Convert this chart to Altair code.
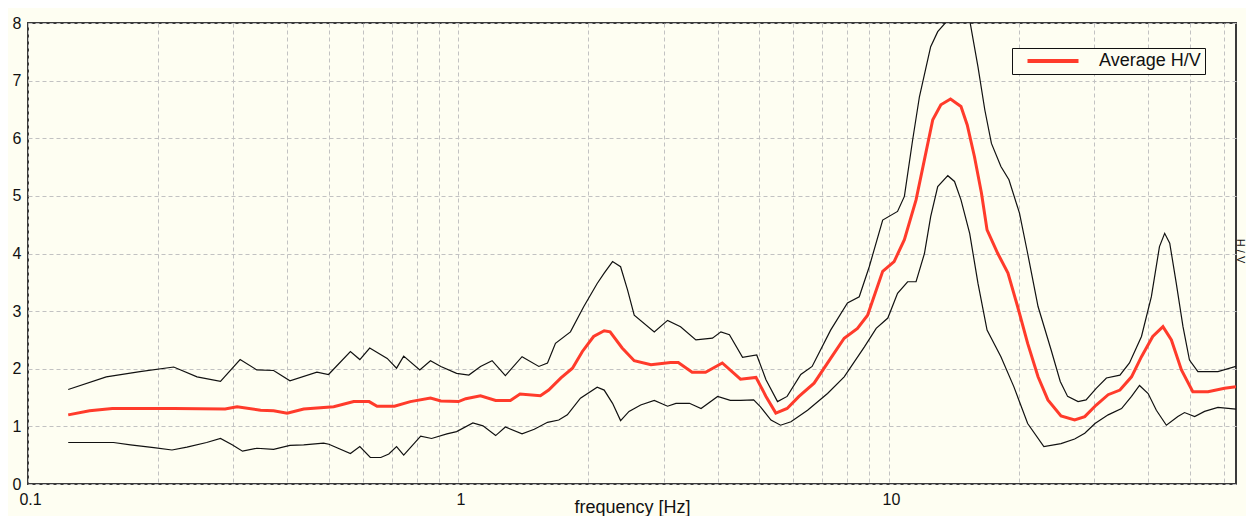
import altair as alt
import pandas as pd

# ---------------- data ----------------
freq_upper = [0.124, 0.152, 0.182, 0.218, 0.247, 0.280, 0.311, 0.340, 0.372, 0.406,
              0.469, 0.499, 0.561, 0.590, 0.622, 0.683, 0.718, 0.746, 0.813, 0.861,
              0.910, 0.99, 1.057, 1.125, 1.197, 1.285, 1.405, 1.537, 1.61, 1.68,
              1.82, 1.955, 2.10, 2.18, 2.28, 2.38, 2.47, 2.56, 2.85, 3.06,
              3.28, 3.56, 3.89, 4.07, 4.26, 4.57, 4.93, 5.18, 5.51, 5.8,
              6.24, 6.63, 7.32, 8.01, 8.53, 9.0, 9.67, 10.47, 10.86, 11.35,
              11.77, 12.2, 12.5, 12.98, 13.7, 14.5, 15.4, 16.1, 16.7, 17.3,
              18.2, 19.0, 20.1, 21.0, 22.2, 23.8, 25.0, 26.0, 27.5, 28.7,
              30.3, 32.0, 34.4, 36.2, 38.6, 40.7, 42.5, 43.7, 44.9, 46.5,
              48.2, 49.9, 52.2, 58.1, 64.0]
hv_upper = [1.64, 1.86, 1.95, 2.03, 1.86, 1.78, 2.16, 1.98, 1.97, 1.79,
            1.94, 1.90, 2.30, 2.16, 2.36, 2.18, 2.01, 2.22, 1.98, 2.14,
            2.04, 1.92, 1.89, 2.04, 2.14, 1.88, 2.21, 2.04, 2.10, 2.44,
            2.64, 3.08, 3.48, 3.66, 3.86, 3.77, 3.37, 2.93, 2.64, 2.84,
            2.73, 2.50, 2.53, 2.64, 2.59, 2.20, 2.24, 1.81, 1.43, 1.52,
            1.90, 2.04, 2.67, 3.14, 3.25, 3.77, 4.58, 4.73, 4.99, 5.97,
            6.72, 7.24, 7.59, 7.85, 8.05, 8.30, 8.05, 7.24, 6.49, 5.91,
            5.51, 5.28, 4.70, 4.00, 3.08, 2.33, 1.78, 1.52, 1.43, 1.46,
            1.66, 1.84, 1.89, 2.10, 2.56, 3.25, 4.12, 4.35, 4.18, 3.48,
            2.73, 2.15, 1.95, 1.95, 2.04]

freq_mean = [0.124, 0.139, 0.157, 0.218, 0.287, 0.306, 0.347, 0.372, 0.400, 0.437,
             0.513, 0.571, 0.620, 0.647, 0.710, 0.773, 0.861, 0.910, 1.0, 1.04,
             1.125, 1.22, 1.32, 1.39, 1.55, 1.62, 1.73, 1.84, 1.94, 2.06,
             2.18, 2.25, 2.40, 2.56, 2.80, 3.11, 3.24, 3.49, 3.75, 4.10,
             4.52, 4.91, 5.18, 5.46, 5.8, 6.18, 6.70, 7.32, 7.87, 8.45,
             8.92, 9.67, 10.28, 10.86, 11.56, 12.09, 12.64, 13.2, 13.9, 14.7,
             15.2, 15.8, 16.4, 16.9, 17.9, 18.9, 19.9, 21.0, 22.2, 23.4,
             25.1, 27.0, 28.5, 30.3, 32.3, 34.4, 36.6, 38.6, 41.0, 43.3,
             45.3, 47.8, 50.8, 55.1, 60.2, 64.0]
hv_mean = [1.20, 1.27, 1.31, 1.31, 1.30, 1.34, 1.28, 1.27, 1.23, 1.30,
           1.34, 1.43, 1.43, 1.35, 1.35, 1.43, 1.49, 1.44, 1.43, 1.48,
           1.53, 1.45, 1.45, 1.56, 1.53, 1.63, 1.84, 2.01, 2.30, 2.56,
           2.66, 2.64, 2.36, 2.14, 2.07, 2.11, 2.11, 1.94, 1.94, 2.10,
           1.82, 1.85, 1.52, 1.23, 1.31, 1.52, 1.75, 2.18, 2.53, 2.70,
           2.93, 3.69, 3.86, 4.24, 4.93, 5.63, 6.32, 6.58, 6.68, 6.55,
           6.23, 5.68, 5.05, 4.41, 4.00, 3.66, 3.08, 2.44, 1.86, 1.46,
           1.18, 1.11, 1.17, 1.37, 1.55, 1.63, 1.86, 2.21, 2.56, 2.73,
           2.50, 1.98, 1.60, 1.60, 1.66, 1.69]

freq_lower = [0.124, 0.158, 0.173, 0.196, 0.216, 0.234, 0.26, 0.28, 0.298, 0.315,
              0.34, 0.372, 0.406, 0.437, 0.486, 0.50, 0.561, 0.59, 0.624, 0.66,
              0.689, 0.718, 0.746, 0.817, 0.866, 0.94, 0.99, 1.08, 1.14, 1.22,
              1.285, 1.405, 1.50, 1.61, 1.71, 1.79, 1.92, 2.10, 2.18, 2.28,
              2.38, 2.49, 2.65, 2.85, 3.06, 3.2, 3.44, 3.66, 4.0, 4.28,
              4.52, 4.85, 5.03, 5.32, 5.6, 5.92, 6.47, 7.20, 7.87, 8.77,
              9.34, 9.94, 10.47, 11.05, 11.56, 12.09, 12.5, 12.98, 13.7, 14.2,
              14.7, 15.4, 16.1, 16.9, 18.2, 19.5, 21.0, 22.9, 25.1, 27.0,
              28.5, 30.1, 32.3, 34.7, 36.6, 38.2, 40.0, 41.8, 44.1, 46.9,
              48.6, 51.3, 54.1, 58.1, 64.0]
hv_lower = [0.72, 0.72, 0.68, 0.63, 0.59, 0.64, 0.72, 0.79, 0.68, 0.57,
            0.62, 0.60, 0.67, 0.68, 0.71, 0.69, 0.53, 0.65, 0.46, 0.46,
            0.52, 0.65, 0.50, 0.83, 0.79, 0.87, 0.91, 1.06, 1.01, 0.84,
            0.99, 0.87, 0.95, 1.07, 1.11, 1.20, 1.49, 1.68, 1.63, 1.40,
            1.10, 1.26, 1.37, 1.45, 1.35, 1.40, 1.40, 1.31, 1.52, 1.45,
            1.45, 1.46, 1.34, 1.11, 1.02, 1.08, 1.28, 1.57, 1.86, 2.38,
            2.70, 2.88, 3.31, 3.51, 3.51, 4.00, 4.64, 5.16, 5.35, 5.25,
            4.93, 4.35, 3.48, 2.67, 2.21, 1.69, 1.05, 0.65, 0.70, 0.78,
            0.88, 1.05, 1.20, 1.31, 1.52, 1.71, 1.57, 1.28, 1.02, 1.17,
            1.24, 1.17, 1.26, 1.33, 1.30]

x_grid_values = [0.1, 0.2, 0.3, 0.4, 0.5, 0.6, 0.7, 0.8, 0.9,
                 1, 2, 3, 4, 5, 6, 7, 8, 9,
                 10, 20, 30, 40, 50, 60]
y_tick_values = [0, 1, 2, 3, 4, 5, 6, 7, 8]
series_name = "Average H/V"
y_side_title = "H / V"
x_title = "frequency [Hz]"

# ---------------- build ----------------
FONT = "Liberation Sans"
BG = "#fefef2"
RED = "#ff3b2b"

upper_df = pd.DataFrame({"freq": freq_upper, "hv": hv_upper})
lower_df = pd.DataFrame({"freq": freq_lower, "hv": hv_lower})
mean_df = pd.DataFrame({"freq": freq_mean, "hv": hv_mean,
                        "series": [series_name] * len(freq_mean)})

xscale = alt.Scale(type="log", domain=[0.1, 64], nice=False)
yscale = alt.Scale(domain=[0, 8], nice=False, zero=False)

xaxis = alt.Axis(
    values=x_grid_values,
    labelExpr="datum.value == 0.1 ? '0.1' : (datum.value == 1 ? '1' : (datum.value == 10 ? '10' : ''))",
    title=x_title, titleFont=FONT, titleFontSize=18, titleFontWeight="normal",
    titleColor="#111111", titleBaseline="top", titleY=14,
    labelFont=FONT, labelFontSize=16, labelColor="#111111",
    labelPadding=7, labelOffset=2, labelFlush=False, labelOverlap=False,
    ticks=False, domain=False,
    grid=True, gridColor="#c2c2c2", gridDash=[4, 3], gridWidth=1,
)
yaxis = alt.Axis(
    values=y_tick_values, title=None,
    labelFont=FONT, labelFontSize=16, labelColor="#111111",
    labelPadding=7, labelFlush=False, labelOverlap=False,
    ticks=False, domain=False,
    grid=True, gridColor="#c2c2c2", gridDash=[4, 3], gridWidth=1,
)

def enc(chart):
    return chart.encode(
        x=alt.X("freq:Q", scale=xscale, axis=xaxis),
        y=alt.Y("hv:Q", scale=yscale, axis=yaxis),
        order=alt.Order("freq:Q"),
    )

upper = enc(alt.Chart(upper_df).mark_line(color="#111111", strokeWidth=1.2, clip=True))
lower = enc(alt.Chart(lower_df).mark_line(color="#111111", strokeWidth=1.2, clip=True))
mean = enc(alt.Chart(mean_df).mark_line(strokeWidth=3, clip=True)).encode(
    color=alt.Color(
        "series:N",
        scale=alt.Scale(domain=[series_name], range=[RED]),
        legend=alt.Legend(
            title=None, orient="none", legendX=984, legendY=25,
            padding=4, strokeColor="#111111", fillColor=BG,
            symbolType="M-5,0H5", symbolSize=104, symbolStrokeWidth=4,
            symbolOffset=28, labelOffset=37,
            labelExpr="datum.label + '\u2003\u2009'",
            labelFont=FONT, labelFontSize=18, labelColor="#111111",
        ),
    )
)

side = alt.Chart(pd.DataFrame({"t": [y_side_title]})).mark_text(
    angle=90, align="center", baseline="alphabetic",
    font=FONT, fontSize=11, color="#111111",
).encode(x=alt.value(1209), y=alt.value(228), text="t:N")

chart = alt.layer(upper, lower, mean, side).properties(
    width=1208, height=461,
    autosize=alt.AutoSizeParams(type="none"),
    padding={"left": 20, "top": 15, "right": 10, "bottom": 32},
    background=BG,
).configure_view(
    stroke="#3a3a3a", strokeWidth=2, fill=BG,
)

chart.save("out.html", embed_options={"renderer": "svg", "actions": False})
